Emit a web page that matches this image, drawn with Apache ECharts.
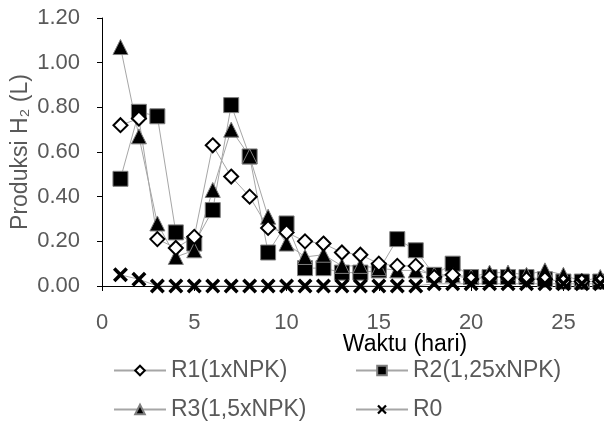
<!DOCTYPE html>
<html>
<head>
<meta charset="utf-8">
<script src="https://cdn.jsdelivr.net/npm/echarts@6/dist/echarts.min.js"></script>
<style>
html, body { margin: 0; padding: 0; background: #fff; }
#chart { width: 604px; height: 425px; }
</style>
</head>
<body>
<div id="chart"></div>
<script>
// hari ke-1 .. ke-27
var DAYS = [1,2,3,4,5,6,7,8,9,10,11,12,13,14,15,16,17,18,19,20,21,22,23,24,25,26,27];
var R1 = [0.72,0.75,0.21,0.17,0.22,0.63,0.49,0.40,0.26,0.24,0.20,0.19,0.15,0.14,0.10,0.09,0.09,0.04,0.05,0.03,0.04,0.04,0.03,0.03,0.02,0.02,0.02];
var R2 = [0.48,0.78,0.76,0.24,0.19,0.34,0.81,0.58,0.15,0.28,0.08,0.08,0.06,0.06,0.07,0.21,0.16,0.05,0.10,0.04,0.04,0.04,0.04,0.03,0.02,0.02,0.02];
var R3 = [1.07,0.67,0.28,0.13,0.16,0.43,0.70,0.58,0.31,0.19,0.13,0.14,0.09,0.09,0.08,0.07,0.07,0.05,0.05,0.04,0.06,0.06,0.05,0.07,0.05,0.02,0.04];
var R0 = [0.05,0.03,0,0,0,0,0,0,0,0,0,0,0,0,0,0,0,0.01,0.01,0.01,0.01,0.01,0.01,0.01,0.01,0.01,0.01];
var NAMES = ['R1(1xNPK)', 'R2(1,25xNPK)', 'R3(1,5xNPK)', 'R0'];

var FONT = '"Liberation Sans", Arial, sans-serif';
var GREY = '#595959';
var LINE = '#a6a6a6';
var CROSS = 'path://M0,2L2,0L6,4L10,0L12,2L8,6L12,10L10,12L6,8L2,12L0,10L4,6Z';

function pairs(vals) {
	return DAYS.map(function (d, i) { return [d, vals[i]]; });
}

function makeSeries(name, vals, symbol, size, itemStyle) {
	return {
		name: name,
		type: 'line',
		data: pairs(vals),
		symbol: symbol,
		symbolSize: size,
		showAllSymbol: true,
		lineStyle: { color: LINE, width: 1 },
		itemStyle: itemStyle,
		emphasis: { disabled: true },
		animation: false
	};
}

// satu legend per item supaya posisinya bisa diatur seperti di gambar
function legendAt(name, left, top) {
	return {
		data: [name],
		left: left,
		top: top,
		padding: 0,
		itemWidth: 52,
		itemHeight: 12,
		itemGap: 0,
		textStyle: { fontFamily: FONT, fontSize: 23, color: GREY, lineHeight: 23 }
	};
}

var chart = echarts.init(document.getElementById('chart'));

chart.setOption({
	backgroundColor: '#fff',
	grid: { left: 102, top: 18, right: 0, bottom: 139, containLabel: false, outerBoundsMode: 'none' },
	xAxis: {
		type: 'value',
		min: 0,
		max: 27.2,
		interval: 5,
		name: 'Waktu (hari)',
		nameLocation: 'middle',
		nameGap: 47,
		nameMoveOverlap: false,
		nameTextStyle: { fontFamily: FONT, fontSize: 23, color: '#000', padding: [0, 0, 0, 104] },
		axisLine: { lineStyle: { color: '#000', width: 1 } },
		axisTick: { show: true, length: 5, lineStyle: { color: '#000' } },
		axisLabel: { fontFamily: FONT, fontSize: 22, color: GREY, margin: 26, showMaxLabel: false },
		splitLine: { show: false }
	},
	yAxis: {
		type: 'value',
		min: 0,
		max: 1.2,
		interval: 0.2,
		name: 'Produksi H\u2082 (L)',
		nameLocation: 'middle',
		nameGap: 70,
		nameMoveOverlap: false,
		nameTextStyle: { fontFamily: FONT, fontSize: 23, color: GREY },
		axisLine: { show: true, lineStyle: { color: '#000', width: 1 } },
		axisTick: { show: true, length: 5, lineStyle: { color: '#000' } },
		axisLabel: {
			fontFamily: FONT, fontSize: 22, color: GREY, margin: 22,
			formatter: function (v) { return v.toFixed(2); }
		},
		splitLine: { show: false }
	},
	legend: [
		legendAt(NAMES[0], 113, 359),
		legendAt(NAMES[1], 355, 359),
		legendAt(NAMES[2], 113, 398),
		legendAt(NAMES[3], 355, 398)
	],
	series: [
		makeSeries(NAMES[1], R2, 'rect', 15, { color: '#000', borderColor: '#7f7f7f', borderWidth: 1 }),
		makeSeries(NAMES[2], R3, 'triangle', 15, { color: '#000', borderColor: '#7f7f7f', borderWidth: 1 }),
		makeSeries(NAMES[0], R1, 'diamond', 14, { color: '#fff', borderColor: '#000', borderWidth: 2 }),
		makeSeries(NAMES[3], R0, CROSS, 15, { color: '#000' })
	]
});
</script>
</body>
</html>
